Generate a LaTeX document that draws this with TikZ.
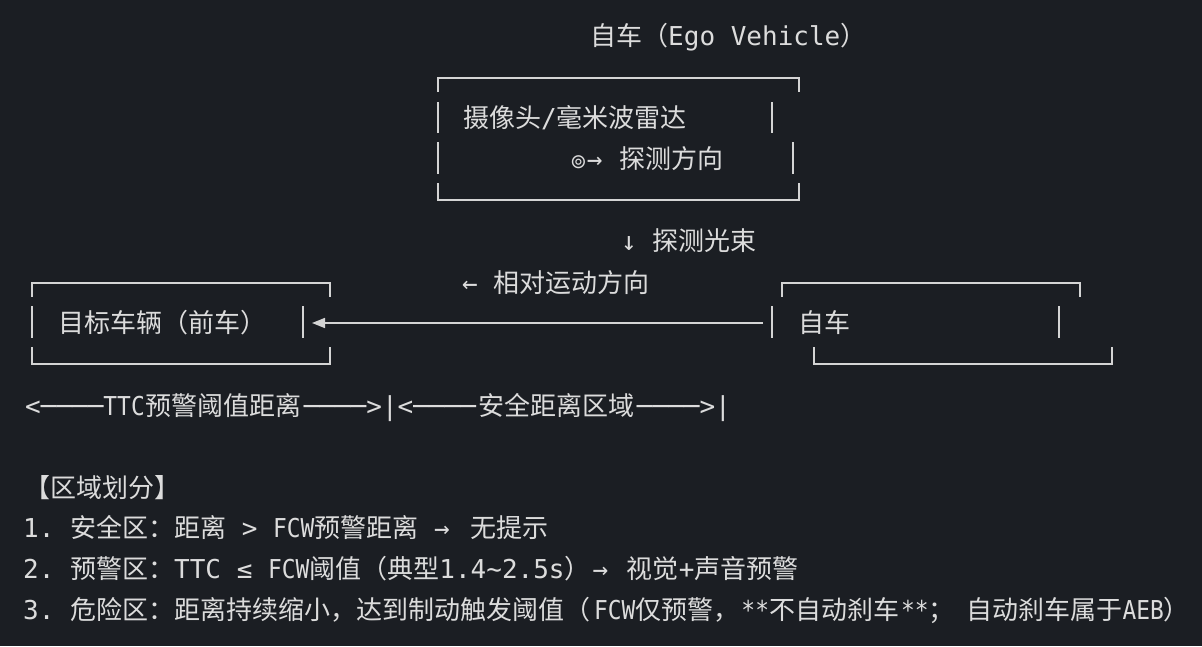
\documentclass[tikz,border=0pt]{standalone}
\usepackage{graphicx}
\usepackage{fontspec}
\setmainfont{Noto Sans CJK SC}
\newfontfamily\monof{DejaVu Sans Mono}
\newfontfamily\symf{DejaVu Sans}
\usetikzlibrary{arrows.meta}
\definecolor{bg}{HTML}{1B1E23}
\definecolor{fg}{HTML}{DCDCDC}
\definecolor{ln}{HTML}{D4D4D4}
\newcommand{\mn}[1]{{\monof\fontsize{26}{30}\selectfont #1}}
\newcommand{\nr}[1]{\scalebox{0.88}[1]{\mn{#1}}}
\tikzset{
  txt/.style={anchor=base west, inner sep=0pt, text=fg, font=\fontsize{26}{30}\selectfont},
  boxline/.style={draw=ln, line width=1.6pt},
  conn/.style={draw=ln, line width=1.6pt, -{Triangle[length=13pt,width=10pt]}}
}
\begin{document}
\begin{tikzpicture}[x=1pt,y=-1pt]
\fill[bg] (0,0) rectangle (1202,646);
\useasboundingbox (0,0) rectangle (1202,646);

% title
\node[txt] (title) at (590,45) {自车（\mn{Ego Vehicle}）};

% sensor box
\draw[boxline] (438,92) -- (438,78) -- (799,78) -- (799,92);
\draw[boxline] (438,102) -- (438,133);
\draw[boxline] (772,102) -- (772,133);
\draw[boxline] (438,142) -- (438,174);
\draw[boxline] (793,142) -- (793,174);
\draw[boxline] (438,183) -- (438,200) -- (799,200) -- (799,183);
\node[txt] (sensor) at (463,127) {摄像头\mn{/}毫米波雷达};
\node[txt] (probe) at (570,168) {{\symf\fontsize{20}{24}\selectfont ⊚}\mn{→}};
\node[txt] (probetxt) at (619,168) {探测方向};

% beam and motion labels
\node[txt] (beam) at (621,250) {\mn{↓\ }探测光束};
\node[txt] (motion) at (462,292) {\mn{←\ }相对运动方向};

% target box
\draw[boxline] (32,297) -- (32,283) -- (330,283) -- (330,297);
\draw[boxline] (32,306) -- (32,338);
\draw[boxline] (303,306) -- (303,338);
\draw[boxline] (32,347) -- (32,364) -- (330,364) -- (330,347);
\node[txt] (target) at (58,332) {目标车辆（前车）};

% ego box
\draw[boxline] (782,297) -- (782,283) -- (1080,283) -- (1080,297);
\draw[boxline] (772,306) -- (772,338);
\draw[boxline] (1059,306) -- (1059,338);
\draw[boxline] (814,347) -- (814,364) -- (1112,364) -- (1112,347);
\node[txt] (ego) at (798,332) {自车};

% relative motion arrow
\coordinate (arrS) at (763,323);
\coordinate (arrE) at (312,323);
\draw[conn] (arrS) -- (arrE);

% distance scale
\node[txt] (scale) at (25,415) {\mn{<────}\nr{TTC}\hspace{1pt}预警阈值距离\hspace{2pt}\mn{────>|<────}\hspace{3pt}安全距离区域\hspace{2pt}\mn{────>|}};

% legend
\node[txt] (legend) at (24,497) {【区域划分】};
\node[txt] (l1) at (23,537) {\mn{1.\ }安全区：距离\mn{\ >\ }\nr{FCW}预警距离\mn{\ →\ }\hspace{5pt}无提示};
\node[txt] (l2) at (23,578) {\mn{2.\ }预警区：\mn{TTC\ ≤\ }\nr{FCW}阈值（典型\mn{1.4\char`\~2.5s}）\hspace{2pt}\mn{→\ }\hspace{3pt}视觉\mn{+}声音预警};
\node[txt] (l3) at (23,619) {\mn{3.\ }危险区：距离持续缩小，达到制动触发阈值（\hspace{4pt}\nr{FCW}仅预警，\hspace{2pt}\nr{**}不自动刹车\hspace{2pt}\nr{**}；\hspace{12pt}自动刹车属于\nr{AEB}）};
\end{tikzpicture}
\end{document}
